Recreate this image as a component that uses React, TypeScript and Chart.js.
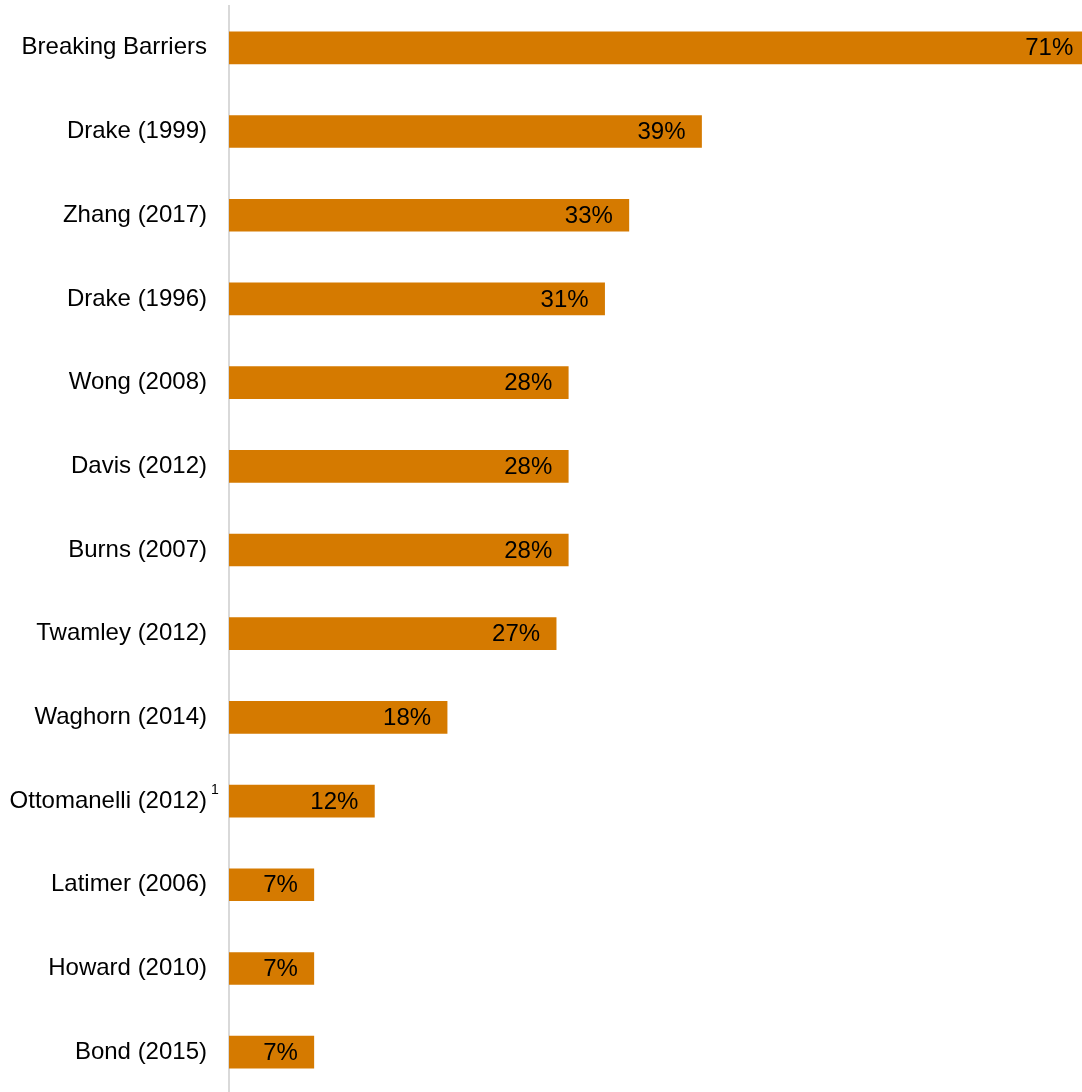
import React, { useEffect, useRef } from "react";
import { Chart, registerables } from "chart.js";

Chart.register(...registerables);

const categories: string[] = [
  "Breaking Barriers",
  "Drake (1999)",
  "Zhang (2017)",
  "Drake (1996)",
  "Wong (2008)",
  "Davis (2012)",
  "Burns (2007)",
  "Twamley (2012)",
  "Waghorn (2014)",
  "Ottomanelli (2012)",
  "Latimer (2006)",
  "Howard (2010)",
  "Bond (2015)",
];
const values: number[] = [71, 39, 33, 31, 28, 28, 28, 27, 18, 12, 7, 7, 7];
const valueLabels: string[] = ["71%", "39%", "33%", "31%", "28%", "28%", "28%", "27%", "18%", "12%", "7%", "7%", "7%"];
const footnoteCategory = "Ottomanelli (2012)";
const footnoteMark = "1";

const BAR_COLOR = "#D57A00";
const FONT = "'Liberation Sans', Arial, sans-serif";

export default function App() {
  const ref = useRef<HTMLCanvasElement | null>(null);

  useEffect(() => {
    if (!ref.current) return;
    const valueLabelPlugin = {
      id: "valueLabels",
      afterDatasetsDraw(chart: any) {
        const ctx = chart.ctx;
        const meta = chart.getDatasetMeta(0);
        ctx.save();
        ctx.font = `24px ${FONT}`;
        ctx.fillStyle = "#000";
        ctx.textAlign = "right";
        ctx.textBaseline = "middle";
        meta.data.forEach((bar: any, i: number) => {
          ctx.fillText(valueLabels[i], bar.x - 16, bar.y + 1);
        });
        ctx.restore();
      },
    };
    const footnotePlugin = {
      id: "footnote",
      afterDraw(chart: any) {
        const idx = categories.indexOf(footnoteCategory);
        if (idx < 0) return;
        const y = chart.scales.y.getPixelForTick(idx);
        const ctx = chart.ctx;
        ctx.save();
        ctx.font = `14px ${FONT}`;
        ctx.fillStyle = "#000";
        ctx.textAlign = "left";
        ctx.textBaseline = "middle";
        ctx.fillText(footnoteMark, 211, y - 11);
        ctx.restore();
      },
    };
    const chart = new Chart(ref.current, {
      type: "bar",
      data: {
        labels: categories,
        datasets: [
          {
            data: values,
            backgroundColor: BAR_COLOR,
            borderWidth: 0,
            barThickness: 32,
          },
        ],
      },
      options: {
        indexAxis: "y",
        animation: false,
        responsive: false,
        devicePixelRatio: 1,
        layout: { autoPadding: false, padding: { top: 6, right: 0, bottom: 0, left: 0 } },
        plugins: {
          legend: { display: false },
          tooltip: { enabled: false },
        },
        scales: {
          x: { display: false, min: 0, max: 70.4 },
          y: {
            afterFit: (s: any) => {
              s.width = 229;
              s.paddingTop = 0;
              s.paddingBottom = 0;
            },
            grid: { display: false, drawTicks: false },
            border: { display: true, color: "#d9d9d9", width: 2 },
            ticks: {
              color: "#000",
              padding: 22,
              font: { family: FONT, size: 24 },
            },
          },
        },
      },
      plugins: [valueLabelPlugin, footnotePlugin],
    } as any);
    return () => chart.destroy();
  }, []);

  return (
    <div
      style={{
        position: "fixed",
        left: 0,
        top: 0,
        width: 1082,
        height: 1092,
        overflow: "hidden",
        background: "#fff",
      }}
    >
      <canvas ref={ref} width={1082} height={1094} style={{ display: "block" }} />
    </div>
  );
}
